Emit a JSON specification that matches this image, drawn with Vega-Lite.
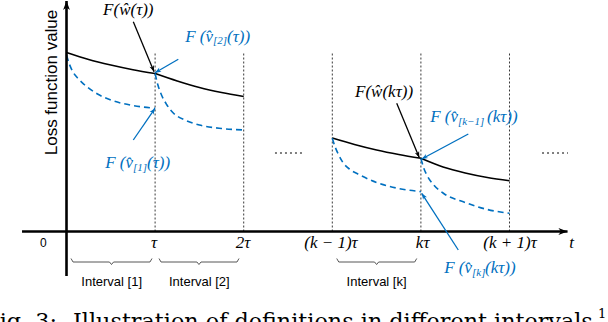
{
  "$schema": "https://vega.github.io/schema/vega-lite/v6.json",
  "width": 608,
  "height": 322,
  "autosize": {"type": "none"},
  "padding": 0,
  "background": "white",
  "config": {"view": {"stroke": null}},
  "datasets": {
    "vlines": [
      {"t": 1, "bottom": 0, "top": 1.785},
      {"t": 2, "bottom": 0, "top": 1.785},
      {"t": 3, "bottom": 0, "top": 1.785},
      {"t": 4, "bottom": 0, "top": 1.785},
      {"t": 5, "bottom": 0, "top": 1.785}
    ],
    "curves": [
      {"seg": "w1", "kind": "global", "t": 0, "loss": 1.79},
      {"seg": "w1", "kind": "global", "t": 0.25, "loss": 1.72},
      {"seg": "w1", "kind": "global", "t": 0.5, "loss": 1.665},
      {"seg": "w1", "kind": "global", "t": 0.75, "loss": 1.618},
      {"seg": "w1", "kind": "global", "t": 1.0, "loss": 1.58},
      {"seg": "w2", "kind": "global", "t": 1.0, "loss": 1.58},
      {"seg": "w2", "kind": "global", "t": 1.25, "loss": 1.505},
      {"seg": "w2", "kind": "global", "t": 1.5, "loss": 1.44},
      {"seg": "w2", "kind": "global", "t": 1.75, "loss": 1.39},
      {"seg": "w2", "kind": "global", "t": 2.0, "loss": 1.35},
      {"seg": "wk", "kind": "global", "t": 3.0, "loss": 0.935},
      {"seg": "wk", "kind": "global", "t": 3.25, "loss": 0.87},
      {"seg": "wk", "kind": "global", "t": 3.5, "loss": 0.815},
      {"seg": "wk", "kind": "global", "t": 3.75, "loss": 0.77},
      {"seg": "wk", "kind": "global", "t": 4.0, "loss": 0.732},
      {"seg": "wk1", "kind": "global", "t": 4.0, "loss": 0.732},
      {"seg": "wk1", "kind": "global", "t": 4.25, "loss": 0.645},
      {"seg": "wk1", "kind": "global", "t": 4.5, "loss": 0.585},
      {"seg": "wk1", "kind": "global", "t": 4.75, "loss": 0.54},
      {"seg": "wk1", "kind": "global", "t": 5.0, "loss": 0.508},
      {"seg": "v1", "kind": "local", "t": 0, "loss": 1.765},
      {"seg": "v1", "kind": "local", "t": 0.03, "loss": 1.68},
      {"seg": "v1", "kind": "local", "t": 0.07, "loss": 1.6},
      {"seg": "v1", "kind": "local", "t": 0.13, "loss": 1.53},
      {"seg": "v1", "kind": "local", "t": 0.2, "loss": 1.47},
      {"seg": "v1", "kind": "local", "t": 0.35, "loss": 1.375},
      {"seg": "v1", "kind": "local", "t": 0.5, "loss": 1.315},
      {"seg": "v1", "kind": "local", "t": 0.75, "loss": 1.26},
      {"seg": "v1", "kind": "local", "t": 1.0, "loss": 1.232},
      {"seg": "v2", "kind": "local", "t": 1.0, "loss": 1.58},
      {"seg": "v2", "kind": "local", "t": 1.03, "loss": 1.47},
      {"seg": "v2", "kind": "local", "t": 1.07, "loss": 1.37},
      {"seg": "v2", "kind": "local", "t": 1.13, "loss": 1.27},
      {"seg": "v2", "kind": "local", "t": 1.2, "loss": 1.19},
      {"seg": "v2", "kind": "local", "t": 1.35, "loss": 1.11},
      {"seg": "v2", "kind": "local", "t": 1.5, "loss": 1.065},
      {"seg": "v2", "kind": "local", "t": 1.75, "loss": 1.03},
      {"seg": "v2", "kind": "local", "t": 2.0, "loss": 1.015},
      {"seg": "vk1", "kind": "local", "t": 3.0, "loss": 0.932},
      {"seg": "vk1", "kind": "local", "t": 3.03, "loss": 0.85},
      {"seg": "vk1", "kind": "local", "t": 3.07, "loss": 0.77},
      {"seg": "vk1", "kind": "local", "t": 3.12, "loss": 0.69},
      {"seg": "vk1", "kind": "local", "t": 3.2, "loss": 0.62},
      {"seg": "vk1", "kind": "local", "t": 3.3, "loss": 0.57},
      {"seg": "vk1", "kind": "local", "t": 3.5, "loss": 0.49},
      {"seg": "vk1", "kind": "local", "t": 3.75, "loss": 0.43},
      {"seg": "vk1", "kind": "local", "t": 4.0, "loss": 0.398},
      {"seg": "vk", "kind": "local", "t": 4.0, "loss": 0.73},
      {"seg": "vk", "kind": "local", "t": 4.03, "loss": 0.64},
      {"seg": "vk", "kind": "local", "t": 4.07, "loss": 0.56},
      {"seg": "vk", "kind": "local", "t": 4.14, "loss": 0.47},
      {"seg": "vk", "kind": "local", "t": 4.25, "loss": 0.385},
      {"seg": "vk", "kind": "local", "t": 4.5, "loss": 0.29},
      {"seg": "vk", "kind": "local", "t": 4.75, "loss": 0.22},
      {"seg": "vk", "kind": "local", "t": 5.0, "loss": 0.182}
    ],
    "braces": [
      {"brace": "1", "x": 0.051, "y": -0.27},
      {"brace": "1", "x": 0.074, "y": -0.305},
      {"brace": "1", "x": 0.485, "y": -0.305},
      {"brace": "1", "x": 0.508, "y": -0.33},
      {"brace": "1", "x": 0.531, "y": -0.305},
      {"brace": "1", "x": 0.942, "y": -0.305},
      {"brace": "1", "x": 0.965, "y": -0.27},
      {"brace": "2", "x": 1.044, "y": -0.27},
      {"brace": "2", "x": 1.067, "y": -0.305},
      {"brace": "2", "x": 1.472, "y": -0.305},
      {"brace": "2", "x": 1.495, "y": -0.33},
      {"brace": "2", "x": 1.518, "y": -0.305},
      {"brace": "2", "x": 1.924, "y": -0.305},
      {"brace": "2", "x": 1.947, "y": -0.27},
      {"brace": "k", "x": 3.05, "y": -0.27},
      {"brace": "k", "x": 3.073, "y": -0.305},
      {"brace": "k", "x": 3.477, "y": -0.305},
      {"brace": "k", "x": 3.5, "y": -0.33},
      {"brace": "k", "x": 3.523, "y": -0.305},
      {"brace": "k", "x": 3.93, "y": -0.305},
      {"brace": "k", "x": 3.953, "y": -0.27}
    ],
    "dots": [
      {"x1": 2.353, "x2": 2.658, "y": 0.785},
      {"x1": 5.367, "x2": 5.66, "y": 0.785}
    ],
    "axes": [
      {"x": -0.502, "y": 0, "x2": 5.655, "y2": 0},
      {"x": 0, "y": -0.445, "x2": 0, "y2": 2.305}
    ],
    "arrows": [
      {"kind": "global", "x": 0.754, "y": 2.098, "x2": 0.988, "y2": 1.598},
      {"kind": "global", "x": 3.727, "y": 1.282, "x2": 3.982, "y2": 0.738},
      {"kind": "local", "x": 1.262, "y": 1.722, "x2": 0.999, "y2": 1.588},
      {"kind": "local", "x": 0.754, "y": 0.915, "x2": 0.999, "y2": 1.232},
      {"kind": "local", "x": 4.535, "y": 0.975, "x2": 4.009, "y2": 0.725},
      {"kind": "local", "x": 4.422, "y": -0.185, "x2": 4.009, "y2": 0.382}
    ],
    "wlabels": [
      {"text": "F(ŵ(τ))", "x": 0.6975, "y": 2.215},
      {"text": "F(ŵ(kτ))", "x": 3.584, "y": 1.398}
    ],
    "vprefix": [
      {"text": "F (v̂", "x": 0.7506, "y": 0.685},
      {"text": "F (v̂", "x": 1.6535, "y": 1.948},
      {"text": "F (v̂", "x": 4.4187, "y": 1.145},
      {"text": "F (v̂", "x": 4.5767, "y": -0.365}
    ],
    "vsub": [
      {"text": "[1]", "x": 0.7506, "y": 0.64},
      {"text": "[2]", "x": 1.6535, "y": 1.903},
      {"text": "[k−1]", "x": 4.4187, "y": 1.1},
      {"text": "[k]", "x": 4.5767, "y": -0.41}
    ],
    "vsuffix": [
      {"text": "(τ))", "x": 0.9086, "y": 0.685},
      {"text": "(τ))", "x": 1.8115, "y": 1.948},
      {"text": "(kτ))", "x": 4.746, "y": 1.145},
      {"text": "(kτ))", "x": 4.7235, "y": -0.365}
    ],
    "ticks": [
      {"text": "τ", "x": 0.988, "y": -0.118},
      {"text": "2τ", "x": 1.992, "y": -0.118},
      {"text": "(k − 1)τ", "x": 2.985, "y": -0.118},
      {"text": "kτ", "x": 4.02, "y": -0.118},
      {"text": "(k + 1)τ", "x": 5.006, "y": -0.118},
      {"text": "t", "x": 5.702, "y": -0.118}
    ],
    "zero": [{"text": "0", "x": -0.26, "y": -0.118}],
    "intervals": [
      {"text": "Interval [1]", "x": 0.51, "y": -0.505},
      {"text": "Interval [2]", "x": 1.499, "y": -0.505},
      {"text": "Interval [k]", "x": 3.5, "y": -0.505}
    ],
    "ytitle": [{"text": "Loss function value", "x": -0.164, "y": 1.49}],
    "caption": [
      {"text": "Illustration of definitions in different intervals", "x": 0.0734, "y": -0.975}
    ],
    "figno": [{"text": "Fig. 3:", "x": -0.107, "y": -0.975}],
    "footnote": [{"text": "1", "x": 6.0, "y": -0.86}]
  },
  "layer": [
    {
      "data": {"name": "vlines"},
      "mark": {"type": "rule", "strokeDash": [2, 2], "color": "#222222", "strokeWidth": 0.9},
      "encoding": {
        "x": {"field": "t", "type": "quantitative", "scale": {"domain": [-0.7506, 6.1117], "nice": false, "zero": false}, "axis": null},
        "y": {"field": "bottom", "type": "quantitative", "scale": {"domain": [-0.905, 2.315], "nice": false, "zero": false}, "axis": null},
        "y2": {"field": "top"}
      }
    },
    {
      "data": {"name": "curves"},
      "transform": [{"filter": "datum.kind == 'global'"}],
      "mark": {"type": "line", "color": "#000000", "strokeWidth": 1.6, "interpolate": "monotone"},
      "encoding": {
        "x": {"field": "t", "type": "quantitative", "scale": {"domain": [-0.7506, 6.1117], "nice": false, "zero": false}, "axis": null},
        "y": {"field": "loss", "type": "quantitative", "scale": {"domain": [-0.905, 2.315], "nice": false, "zero": false}, "axis": null},
        "detail": {"field": "seg", "type": "nominal"}
      }
    },
    {
      "data": {"name": "curves"},
      "transform": [{"filter": "datum.kind == 'local'"}],
      "mark": {"type": "line", "color": "#0070C0", "strokeWidth": 1.6, "strokeDash": [6, 4], "interpolate": "monotone"},
      "encoding": {
        "x": {"field": "t", "type": "quantitative", "scale": {"domain": [-0.7506, 6.1117], "nice": false, "zero": false}, "axis": null},
        "y": {"field": "loss", "type": "quantitative", "scale": {"domain": [-0.905, 2.315], "nice": false, "zero": false}, "axis": null},
        "detail": {"field": "seg", "type": "nominal"}
      }
    },
    {
      "data": {"name": "braces"},
      "mark": {"type": "line", "color": "#444444", "strokeWidth": 0.9},
      "encoding": {
        "x": {"field": "x", "type": "quantitative", "scale": {"domain": [-0.7506, 6.1117], "nice": false, "zero": false}, "axis": null},
        "y": {"field": "y", "type": "quantitative", "scale": {"domain": [-0.905, 2.315], "nice": false, "zero": false}, "axis": null},
        "detail": {"field": "brace", "type": "nominal"}
      }
    },
    {
      "data": {"name": "dots"},
      "mark": {"type": "rule", "color": "#000000", "strokeWidth": 1, "strokeDash": [2, 3]},
      "encoding": {
        "x": {"field": "x1", "type": "quantitative", "scale": {"domain": [-0.7506, 6.1117], "nice": false, "zero": false}, "axis": null},
        "x2": {"field": "x2"},
        "y": {"field": "y", "type": "quantitative", "scale": {"domain": [-0.905, 2.315], "nice": false, "zero": false}, "axis": null}
      }
    },
    {
      "data": {"name": "axes"},
      "mark": {"type": "rule", "color": "#000000", "strokeWidth": 2.6},
      "encoding": {
        "x": {"field": "x", "type": "quantitative", "scale": {"domain": [-0.7506, 6.1117], "nice": false, "zero": false}, "axis": null},
        "x2": {"field": "x2"},
        "y": {"field": "y", "type": "quantitative", "scale": {"domain": [-0.905, 2.315], "nice": false, "zero": false}, "axis": null},
        "y2": {"field": "y2"}
      }
    },
    {
      "data": {"name": "axes"},
      "transform": [{"calculate": "atan2((datum.x2-datum.x)*88.6,(datum.y2-datum.y)*100)*180/PI", "as": "ang"}],
      "mark": {"type": "point", "filled": true, "color": "#000000", "opacity": 1, "shape": "M0,0L0.6,1.6L0,1.15L-0.6,1.6Z", "size": 130, "strokeWidth": 0},
      "encoding": {
        "x": {"field": "x2", "type": "quantitative", "scale": {"domain": [-0.7506, 6.1117], "nice": false, "zero": false}, "axis": null},
        "y": {"field": "y2", "type": "quantitative", "scale": {"domain": [-0.905, 2.315], "nice": false, "zero": false}, "axis": null},
        "angle": {"field": "ang", "type": "quantitative", "scale": null}
      }
    },
    {
      "data": {"name": "arrows"},
      "mark": {"type": "rule", "strokeWidth": 1.3},
      "encoding": {
        "x": {"field": "x", "type": "quantitative", "scale": {"domain": [-0.7506, 6.1117], "nice": false, "zero": false}, "axis": null},
        "x2": {"field": "x2"},
        "y": {"field": "y", "type": "quantitative", "scale": {"domain": [-0.905, 2.315], "nice": false, "zero": false}, "axis": null},
        "y2": {"field": "y2"},
        "color": {"field": "kind", "type": "nominal", "scale": {"domain": ["global", "local"], "range": ["#000000", "#0070C0"]}, "legend": null}
      }
    },
    {
      "data": {"name": "arrows"},
      "transform": [{"calculate": "atan2((datum.x2-datum.x)*88.6,(datum.y2-datum.y)*100)*180/PI", "as": "ang"}],
      "mark": {"type": "point", "filled": true, "opacity": 1, "shape": "M0,0L0.6,1.6L0,1.15L-0.6,1.6Z", "size": 60, "strokeWidth": 0},
      "encoding": {
        "x": {"field": "x2", "type": "quantitative", "scale": {"domain": [-0.7506, 6.1117], "nice": false, "zero": false}, "axis": null},
        "y": {"field": "y2", "type": "quantitative", "scale": {"domain": [-0.905, 2.315], "nice": false, "zero": false}, "axis": null},
        "angle": {"field": "ang", "type": "quantitative", "scale": null},
        "color": {"field": "kind", "type": "nominal", "scale": {"domain": ["global", "local"], "range": ["#000000", "#0070C0"]}, "legend": null}
      }
    },
    {
      "data": {"name": "wlabels"},
      "mark": {"type": "text", "font": "Liberation Serif", "fontStyle": "italic", "fontSize": 17, "align": "center", "baseline": "middle", "color": "#000000"},
      "encoding": {
        "x": {"field": "x", "type": "quantitative", "scale": {"domain": [-0.7506, 6.1117], "nice": false, "zero": false}, "axis": null},
        "y": {"field": "y", "type": "quantitative", "scale": {"domain": [-0.905, 2.315], "nice": false, "zero": false}, "axis": null},
        "text": {"field": "text"}
      }
    },
    {
      "data": {"name": "vprefix"},
      "mark": {"type": "text", "font": "Liberation Serif", "fontStyle": "italic", "fontSize": 17, "align": "right", "baseline": "middle", "color": "#0070C0"},
      "encoding": {
        "x": {"field": "x", "type": "quantitative", "scale": {"domain": [-0.7506, 6.1117], "nice": false, "zero": false}, "axis": null},
        "y": {"field": "y", "type": "quantitative", "scale": {"domain": [-0.905, 2.315], "nice": false, "zero": false}, "axis": null},
        "text": {"field": "text"}
      }
    },
    {
      "data": {"name": "vsub"},
      "mark": {"type": "text", "font": "Liberation Serif", "fontStyle": "italic", "fontSize": 11, "align": "left", "baseline": "middle", "color": "#0070C0"},
      "encoding": {
        "x": {"field": "x", "type": "quantitative", "scale": {"domain": [-0.7506, 6.1117], "nice": false, "zero": false}, "axis": null},
        "y": {"field": "y", "type": "quantitative", "scale": {"domain": [-0.905, 2.315], "nice": false, "zero": false}, "axis": null},
        "text": {"field": "text"}
      }
    },
    {
      "data": {"name": "vsuffix"},
      "mark": {"type": "text", "font": "Liberation Serif", "fontStyle": "italic", "fontSize": 17, "align": "left", "baseline": "middle", "color": "#0070C0"},
      "encoding": {
        "x": {"field": "x", "type": "quantitative", "scale": {"domain": [-0.7506, 6.1117], "nice": false, "zero": false}, "axis": null},
        "y": {"field": "y", "type": "quantitative", "scale": {"domain": [-0.905, 2.315], "nice": false, "zero": false}, "axis": null},
        "text": {"field": "text"}
      }
    },
    {
      "data": {"name": "ticks"},
      "mark": {"type": "text", "font": "Liberation Serif", "fontStyle": "italic", "fontSize": 17, "align": "center", "baseline": "middle", "color": "#000000"},
      "encoding": {
        "x": {"field": "x", "type": "quantitative", "scale": {"domain": [-0.7506, 6.1117], "nice": false, "zero": false}, "axis": null},
        "y": {"field": "y", "type": "quantitative", "scale": {"domain": [-0.905, 2.315], "nice": false, "zero": false}, "axis": null},
        "text": {"field": "text"}
      }
    },
    {
      "data": {"name": "zero"},
      "mark": {"type": "text", "font": "Liberation Sans", "fontSize": 12, "align": "center", "baseline": "middle", "color": "#000000"},
      "encoding": {
        "x": {"field": "x", "type": "quantitative", "scale": {"domain": [-0.7506, 6.1117], "nice": false, "zero": false}, "axis": null},
        "y": {"field": "y", "type": "quantitative", "scale": {"domain": [-0.905, 2.315], "nice": false, "zero": false}, "axis": null},
        "text": {"field": "text"}
      }
    },
    {
      "data": {"name": "intervals"},
      "mark": {"type": "text", "font": "Liberation Sans", "fontSize": 13, "align": "center", "baseline": "middle", "color": "#000000"},
      "encoding": {
        "x": {"field": "x", "type": "quantitative", "scale": {"domain": [-0.7506, 6.1117], "nice": false, "zero": false}, "axis": null},
        "y": {"field": "y", "type": "quantitative", "scale": {"domain": [-0.905, 2.315], "nice": false, "zero": false}, "axis": null},
        "text": {"field": "text"}
      }
    },
    {
      "data": {"name": "ytitle"},
      "mark": {"type": "text", "font": "Liberation Sans", "fontSize": 17, "angle": 270, "align": "center", "baseline": "middle", "color": "#000000"},
      "encoding": {
        "x": {"field": "x", "type": "quantitative", "scale": {"domain": [-0.7506, 6.1117], "nice": false, "zero": false}, "axis": null},
        "y": {"field": "y", "type": "quantitative", "scale": {"domain": [-0.905, 2.315], "nice": false, "zero": false}, "axis": null},
        "text": {"field": "text"}
      }
    },
    {
      "data": {"name": "caption"},
      "mark": {"type": "text", "font": "DejaVu Serif", "fontSize": 22.3, "align": "left", "baseline": "alphabetic", "color": "#000000"},
      "encoding": {
        "x": {"field": "x", "type": "quantitative", "scale": {"domain": [-0.7506, 6.1117], "nice": false, "zero": false}, "axis": null},
        "y": {"field": "y", "type": "quantitative", "scale": {"domain": [-0.905, 2.315], "nice": false, "zero": false}, "axis": null},
        "text": {"field": "text"}
      }
    },
    {
      "data": {"name": "figno"},
      "mark": {"type": "text", "font": "DejaVu Serif", "fontSize": 22.3, "align": "right", "baseline": "alphabetic", "color": "#000000"},
      "encoding": {
        "x": {"field": "x", "type": "quantitative", "scale": {"domain": [-0.7506, 6.1117], "nice": false, "zero": false}, "axis": null},
        "y": {"field": "y", "type": "quantitative", "scale": {"domain": [-0.905, 2.315], "nice": false, "zero": false}, "axis": null},
        "text": {"field": "text"}
      }
    },
    {
      "data": {"name": "footnote"},
      "mark": {"type": "text", "font": "DejaVu Serif", "fontSize": 13, "align": "left", "baseline": "alphabetic", "color": "#000000"},
      "encoding": {
        "x": {"field": "x", "type": "quantitative", "scale": {"domain": [-0.7506, 6.1117], "nice": false, "zero": false}, "axis": null},
        "y": {"field": "y", "type": "quantitative", "scale": {"domain": [-0.905, 2.315], "nice": false, "zero": false}, "axis": null},
        "text": {"field": "text"}
      }
    }
  ]
}
